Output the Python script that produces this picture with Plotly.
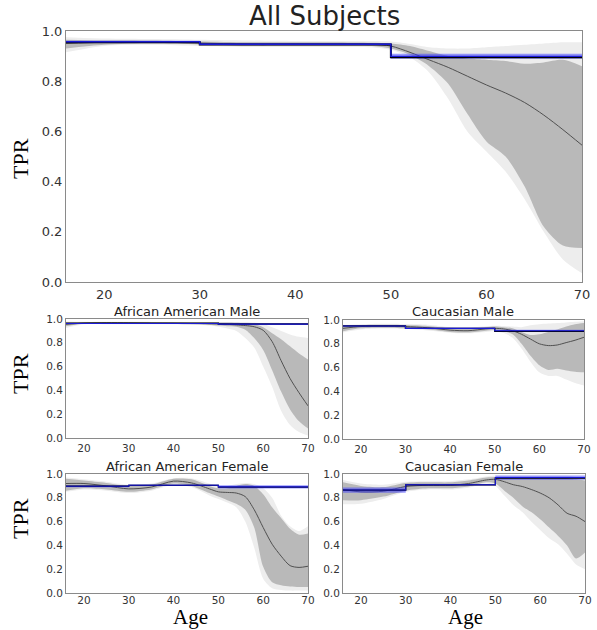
import plotly.graph_objects as go

W, H = 597, 630

AGES = [16, 20, 25, 30, 35, 40, 44, 48, 50, 52, 54, 56, 58, 60, 62, 64, 66, 68, 70]
BIN_EDGES = [16, 30, 50, 70]
X_TICKS = [20, 30, 40, 50, 60, 70]
Y_TICKS = [0.0, 0.2, 0.4, 0.6, 0.8, 1.0]

PANEL_TITLES = ["All Subjects", "African American Male", "Caucasian Male",
                "African American Female", "Caucasian Female"]

# ---- All Subjects ----
all_mean = [0.95, 0.955, 0.956, 0.952, 0.948, 0.948, 0.948, 0.947, 0.94, 0.915, 0.885, 0.855, 0.82, 0.785, 0.753, 0.715, 0.665, 0.607, 0.545]
all_dark_hi = [0.965, 0.963, 0.962, 0.958, 0.955, 0.955, 0.955, 0.953, 0.95, 0.94, 0.92, 0.90, 0.89, 0.885, 0.88, 0.87, 0.875, 0.885, 0.86]
all_dark_lo = [0.93, 0.945, 0.95, 0.946, 0.941, 0.941, 0.941, 0.94, 0.93, 0.905, 0.86, 0.79, 0.67, 0.56, 0.50, 0.38, 0.22, 0.145, 0.135]
all_light_hi = [0.975, 0.97, 0.968, 0.965, 0.962, 0.96, 0.96, 0.96, 0.958, 0.948, 0.935, 0.93, 0.93, 0.935, 0.94, 0.945, 0.95, 0.955, 0.955]
all_light_lo = [0.915, 0.94, 0.945, 0.94, 0.936, 0.936, 0.936, 0.935, 0.925, 0.895, 0.835, 0.73, 0.60, 0.52, 0.44, 0.33, 0.20, 0.09, 0.035]
all_black = [0.955, 0.946, 0.895]
all_blue = [0.957, 0.947, 0.899]
all_blue_hw = [0.004, 0.004, 0.01]

# ---- African American Male ----
aam_mean = [0.955, 0.965, 0.968, 0.967, 0.965, 0.964, 0.962, 0.96, 0.958, 0.955, 0.95, 0.945, 0.935, 0.905, 0.81, 0.65, 0.50, 0.38, 0.27]
aam_dark_hi = [0.97, 0.972, 0.972, 0.972, 0.971, 0.97, 0.97, 0.97, 0.97, 0.97, 0.968, 0.965, 0.955, 0.93, 0.88, 0.83, 0.77, 0.71, 0.66]
aam_dark_lo = [0.94, 0.96, 0.96, 0.96, 0.958, 0.958, 0.955, 0.95, 0.945, 0.94, 0.935, 0.91, 0.84, 0.74, 0.57, 0.39, 0.24, 0.14, 0.08]
aam_light_hi = [0.978, 0.976, 0.976, 0.976, 0.975, 0.975, 0.975, 0.975, 0.975, 0.975, 0.975, 0.975, 0.97, 0.96, 0.93, 0.90, 0.87, 0.85, 0.84]
aam_light_lo = [0.925, 0.955, 0.955, 0.955, 0.955, 0.955, 0.952, 0.945, 0.935, 0.92, 0.90, 0.84, 0.76, 0.60, 0.43, 0.23, 0.11, 0.05, 0.02]
aam_black = [0.965, 0.965, 0.958]
aam_blue = [0.962, 0.962, 0.957]
aam_blue_hw = [0.003, 0.003, 0.003]

# ---- Caucasian Male ----
cm_mean = [0.93, 0.945, 0.948, 0.945, 0.935, 0.915, 0.91, 0.925, 0.93, 0.925, 0.91, 0.88, 0.84, 0.80, 0.785, 0.79, 0.81, 0.83, 0.855]
cm_dark_hi = [0.95, 0.958, 0.96, 0.958, 0.95, 0.93, 0.925, 0.94, 0.945, 0.94, 0.93, 0.90, 0.875, 0.88, 0.90, 0.92, 0.945, 0.965, 0.975]
cm_dark_lo = [0.905, 0.93, 0.935, 0.93, 0.92, 0.90, 0.895, 0.91, 0.915, 0.905, 0.88, 0.80, 0.70, 0.62, 0.58, 0.59, 0.575, 0.565, 0.56]
cm_light_hi = [0.96, 0.965, 0.968, 0.966, 0.96, 0.94, 0.935, 0.948, 0.952, 0.95, 0.945, 0.94, 0.955, 0.965, 0.97, 0.975, 0.98, 0.985, 0.99]
cm_light_lo = [0.895, 0.92, 0.928, 0.925, 0.912, 0.893, 0.888, 0.90, 0.905, 0.89, 0.85, 0.76, 0.65, 0.56, 0.53, 0.53, 0.50, 0.47, 0.45]
cm_black = [0.95, 0.93, 0.905]
cm_blue = [0.95, 0.93, 0.91]
cm_blue_hw = [0.006, 0.005, 0.008]

# ---- African American Female ----
aaf_mean = [0.92, 0.92, 0.90, 0.875, 0.89, 0.94, 0.925, 0.875, 0.85, 0.845, 0.84, 0.81, 0.70, 0.55, 0.41, 0.31, 0.23, 0.215, 0.225]
aaf_dark_hi = [0.96, 0.945, 0.925, 0.90, 0.91, 0.96, 0.955, 0.90, 0.88, 0.88, 0.90, 0.915, 0.90, 0.83, 0.72, 0.63, 0.54, 0.49, 0.50]
aaf_dark_lo = [0.86, 0.88, 0.87, 0.85, 0.87, 0.92, 0.90, 0.84, 0.81, 0.78, 0.75, 0.70, 0.55, 0.22, 0.09, 0.065, 0.055, 0.05, 0.05]
aaf_light_hi = [0.97, 0.955, 0.935, 0.91, 0.92, 0.965, 0.965, 0.92, 0.90, 0.90, 0.915, 0.925, 0.915, 0.88, 0.80, 0.65, 0.56, 0.52, 0.56]
aaf_light_lo = [0.85, 0.87, 0.86, 0.84, 0.86, 0.91, 0.89, 0.82, 0.79, 0.76, 0.72, 0.60, 0.38, 0.12, 0.04, 0.025, 0.02, 0.02, 0.02]
aaf_black = [0.897, 0.905, 0.89]
aaf_blue = [0.897, 0.905, 0.892]
aaf_blue_hw = [0.008, 0.006, 0.014]

# ---- Caucasian Female ----
cf_mean = [0.87, 0.85, 0.855, 0.895, 0.905, 0.905, 0.92, 0.95, 0.955, 0.935, 0.91, 0.895, 0.87, 0.84, 0.80, 0.74, 0.67, 0.645, 0.60]
cf_dark_hi = [0.93, 0.90, 0.89, 0.925, 0.93, 0.93, 0.945, 0.97, 0.975, 0.97, 0.965, 0.965, 0.965, 0.965, 0.965, 0.965, 0.965, 0.955, 0.945]
cf_dark_lo = [0.78, 0.78, 0.81, 0.86, 0.88, 0.88, 0.895, 0.93, 0.92, 0.86, 0.80, 0.73, 0.68, 0.62, 0.55, 0.48, 0.40, 0.29, 0.34]
cf_light_hi = [0.95, 0.92, 0.91, 0.935, 0.94, 0.94, 0.955, 0.98, 0.985, 0.985, 0.985, 0.985, 0.985, 0.985, 0.985, 0.985, 0.985, 0.975, 0.97]
cf_light_lo = [0.745, 0.75, 0.79, 0.85, 0.87, 0.87, 0.885, 0.92, 0.90, 0.82, 0.74, 0.68, 0.60, 0.53, 0.46, 0.41, 0.33, 0.24, 0.20]
cf_black = [0.865, 0.908, 0.965]
cf_blue = [0.865, 0.91, 0.97]
cf_blue_hw = [0.022, 0.006, 0.018]

panels = [
    (all_mean, all_dark_lo, all_dark_hi, all_light_lo, all_light_hi, all_black, all_blue, all_blue_hw),
    (aam_mean, aam_dark_lo, aam_dark_hi, aam_light_lo, aam_light_hi, aam_black, aam_blue, aam_blue_hw),
    (cm_mean, cm_dark_lo, cm_dark_hi, cm_light_lo, cm_light_hi, cm_black, cm_blue, cm_blue_hw),
    (aaf_mean, aaf_dark_lo, aaf_dark_hi, aaf_light_lo, aaf_light_hi, aaf_black, aaf_blue, aaf_blue_hw),
    (cf_mean, cf_dark_lo, cf_dark_hi, cf_light_lo, cf_light_hi, cf_black, cf_blue, cf_blue_hw),
]

# pixel boxes (left, top, right, bottom)
boxes = [(66, 31, 582, 282), (66, 319, 308, 438), (343, 320, 584, 439),
         (66, 474, 308, 593), (343, 474, 585, 593)]

LIGHT = "#ededed"
DARK = "#b9b9b9"
MEANC = "#505050"
BLUE = "rgb(25,25,215)"
BLUEBAND = "rgba(60,60,255,0.5)"

fig = go.Figure()


def step(vals):
    return vals + [vals[-1]]


for i, (mean, dlo, dhi, llo, lhi, black, blue, bhw) in enumerate(panels):
    sfx = "" if i == 0 else str(i + 1)
    xa, ya = "x" + sfx, "y" + sfx
    common = dict(xaxis=xa, yaxis=ya, showlegend=False, hoverinfo="skip")
    sp = dict(shape="spline", smoothing=0.8, width=0)
    fig.add_trace(go.Scatter(x=AGES, y=llo, mode="lines", line=dict(color=LIGHT, **sp), **common))
    fig.add_trace(go.Scatter(x=AGES, y=lhi, mode="lines", line=dict(color=LIGHT, **sp),
                             fill="tonexty", fillcolor=LIGHT, **common))
    fig.add_trace(go.Scatter(x=AGES, y=dlo, mode="lines", line=dict(color=DARK, **sp), **common))
    fig.add_trace(go.Scatter(x=AGES, y=dhi, mode="lines", line=dict(color=DARK, **sp),
                             fill="tonexty", fillcolor=DARK, **common))
    fig.add_trace(go.Scatter(x=AGES, y=mean, mode="lines",
                             line=dict(color=MEANC, width=1, shape="spline", smoothing=0.8), **common))
    lo = [b - h for b, h in zip(blue, bhw)]
    hi = [b + h for b, h in zip(blue, bhw)]
    fig.add_trace(go.Scatter(x=BIN_EDGES, y=step(lo), mode="lines",
                             line=dict(color="rgba(0,0,0,0)", width=0, shape="hv"), **common))
    fig.add_trace(go.Scatter(x=BIN_EDGES, y=step(hi), mode="lines",
                             line=dict(color="rgba(0,0,0,0)", width=0, shape="hv"),
                             fill="tonexty", fillcolor=BLUEBAND, **common))
    fig.add_trace(go.Scatter(x=BIN_EDGES, y=step(black), mode="lines",
                             line=dict(color="black", width=2 if i == 0 else 1.3, shape="hv"), **common))
    fig.add_trace(go.Scatter(x=BIN_EDGES, y=step(blue), mode="lines",
                             line=dict(color=BLUE, width=1.4 if i == 0 else 1.1, shape="hv"), **common))

layout = dict(template="none", width=W, height=H, autosize=False,
              margin=dict(l=0, r=0, t=0, b=0, pad=0),
              paper_bgcolor="white", plot_bgcolor="white",
              font=dict(family="DejaVu Sans", color="#333"))

for i, (l, t, r, b) in enumerate(boxes):
    sfx = "" if i == 0 else str(i + 1)
    fs = 13 if i == 0 else 10.5
    ax = dict(showline=True, mirror=True, linecolor="#8a8a8a", linewidth=1, automargin=False,
              showgrid=False, zeroline=False, ticks="", tickfont=dict(size=fs, color="#333"))
    xa = dict(ax, domain=[l / W, r / W], range=[16, 70], tickvals=X_TICKS, anchor="y" + sfx)
    if i >= 3:
        xa["ticklabelstandoff"] = -3
    layout["xaxis" + sfx] = xa
    layout["yaxis" + sfx] = dict(ax, domain=[1 - b / H, 1 - t / H], range=[0, 1],
                                 tickvals=Y_TICKS, tickformat=".1f", anchor="x" + sfx)

ann = []
# titles
title_pos = [(324, 16, 26), (187, 311, 13), (463, 311, 13), (187, 466, 13), (464, 466, 13)]
for txt, (cx, cy, fs) in zip(PANEL_TITLES, title_pos):
    ann.append(dict(text=txt, x=cx / W, y=1 - cy / H, xref="paper", yref="paper",
                    showarrow=False, xanchor="center", yanchor="middle",
                    font=dict(size=fs, color="#222", family="DejaVu Sans")))
# y labels
for cy in [159, 374, 519]:
    ann.append(dict(text="TPR", x=20 / W, y=1 - cy / H, xref="paper", yref="paper",
                    showarrow=False, textangle=-90, xanchor="center", yanchor="middle",
                    font=dict(size=22, color="black", family="Liberation Serif")))
# x labels
for cx in [190, 465]:
    ann.append(dict(text="Age", x=cx / W, y=0, xref="paper", yref="paper",
                    showarrow=False, xanchor="center", yanchor="bottom", borderpad=0,
                    font=dict(size=21, color="black", family="Liberation Serif")))
layout["annotations"] = ann

fig.update_layout(**layout)
fig.write_html("out.html", config={"displayModeBar": False},
               post_script="document.body.style.margin='0px';")
